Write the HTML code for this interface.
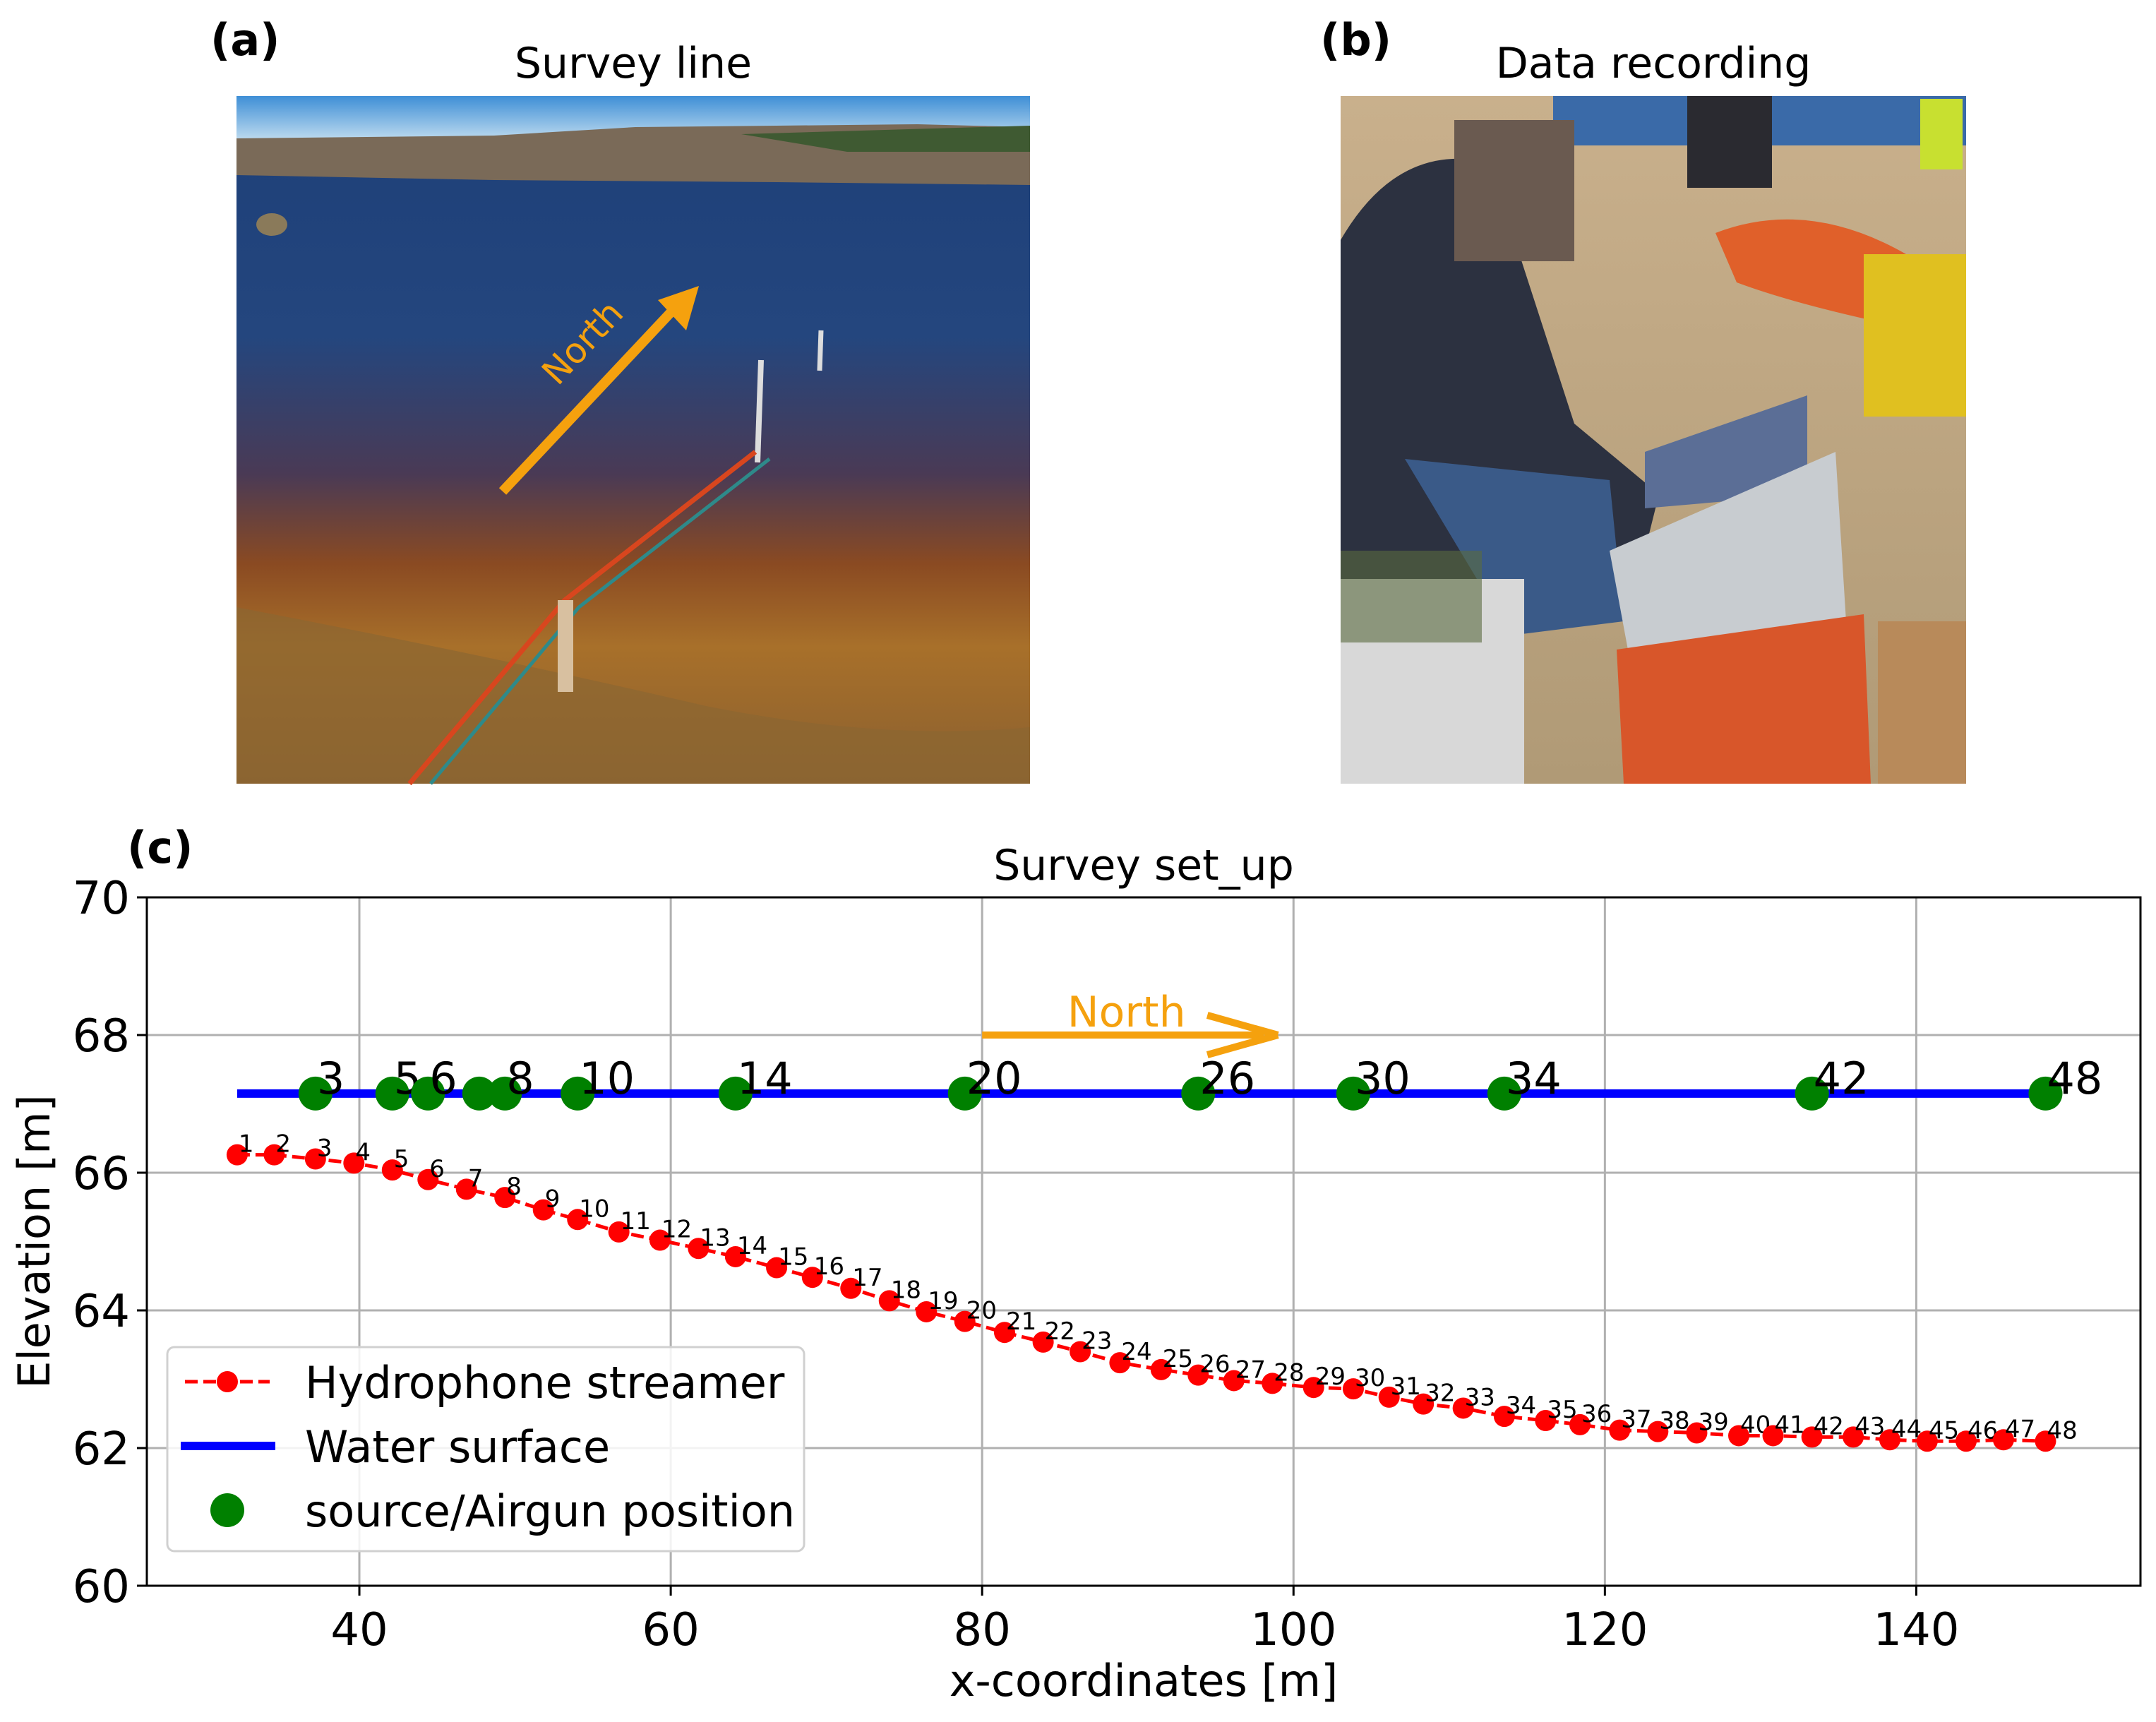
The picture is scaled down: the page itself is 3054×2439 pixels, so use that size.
<!DOCTYPE html>
<html><head><meta charset="utf-8"><style>
body{margin:0;background:#fff;}
svg text{font-family:"DejaVu Sans","Liberation Sans",sans-serif;}
</style></head><body>
<svg id="fig" width="3054" height="2434" viewBox="0 0 3054 2434" xmlns="http://www.w3.org/2000/svg">
<defs>
<linearGradient id="waterA" x1="0" y1="0" x2="0" y2="1">
<stop offset="0" stop-color="#1d3f78"/><stop offset="0.35" stop-color="#24467e"/><stop offset="0.55" stop-color="#4a3a55"/><stop offset="0.68" stop-color="#8a4a22"/><stop offset="0.8" stop-color="#a8702a"/><stop offset="1" stop-color="#8a6030"/>
</linearGradient>
<linearGradient id="skyA" x1="0" y1="0" x2="0" y2="1"><stop offset="0" stop-color="#3f8fd6"/><stop offset="1" stop-color="#b9d8ee"/></linearGradient>
<linearGradient id="sandB" x1="0" y1="0" x2="0" y2="1"><stop offset="0" stop-color="#c9b08c"/><stop offset="1" stop-color="#b09a76"/></linearGradient>
</defs>
<g>
<text x="298" y="78" font-size="62" font-weight="bold">(a)</text>
<text x="897" y="110" font-size="60" text-anchor="middle">Survey line</text>
<g>
<rect x="335" y="136" width="1124" height="974" fill="url(#waterA)"/>
<rect x="335" y="136" width="1124" height="60" fill="url(#skyA)"/>
<path d="M335 196 L700 192 L900 180 L1100 178 L1300 176 L1459 180 L1459 262 L1100 258 L700 255 L335 248 Z" fill="#7a6a58"/>
<path d="M1050 190 L1459 178 L1459 215 L1200 215 Z" fill="#3f5a32"/>
<ellipse cx="385" cy="318" rx="22" ry="16" fill="#8a7a5a"/>
<path d="M335 1110 L335 860 Q700 930 1000 1000 Q1250 1050 1459 1030 L1459 1110 Z" fill="#8c6632" opacity="0.7"/>
<path d="M712 696 L960 432" stroke="#f5a10e" stroke-width="14"/>
<path d="M990 405 L932 425 L972 468 Z" fill="#f5a10e"/>
<text x="0" y="0" font-size="50" fill="#f5a10e" transform="translate(790 548) rotate(-47)">North</text>
<path d="M1078 510 L1073 655" stroke="#ddd" stroke-width="8"/>
<path d="M1163 468 L1161 525" stroke="#ddd" stroke-width="7"/>
<path d="M580 1110 L800 850 L1070 640" stroke="#d8461e" stroke-width="7" fill="none"/>
<path d="M610 1110 L820 860 L1090 650" stroke="#2e8a8a" stroke-width="5" fill="none"/>
<rect x="790" y="850" width="22" height="130" fill="#d8c0a0"/>
</g>
</g>
<g>
<text x="1870" y="78" font-size="62" font-weight="bold">(b)</text>
<text x="2342" y="110" font-size="60" text-anchor="middle">Data recording</text>
<g>
<rect x="1899" y="136" width="886" height="974" fill="url(#sandB)"/>
<rect x="2200" y="136" width="585" height="70" fill="#3a6aa8"/>
<rect x="2390" y="136" width="120" height="130" fill="#2a2a30"/>
<rect x="2720" y="140" width="60" height="100" fill="#c8e030"/>
<path d="M2430 330 Q2560 280 2700 360 L2680 460 Q2540 430 2460 400 Z" fill="#e0602a"/>
<path d="M1899 340 Q1980 200 2110 230 L2230 600 L2350 700 L2320 820 L2200 780 L2150 900 L1899 900 Z" fill="#2c3140"/>
<rect x="2060" y="170" width="170" height="200" fill="#6a5a50"/>
<path d="M1990 650 L2280 680 L2300 880 L2140 900 Z" fill="#3a5a88"/>
<rect x="1899" y="820" width="260" height="290" fill="#d8d8d8"/>
<path d="M2330 640 L2560 560 L2560 700 L2330 720 Z" fill="#5b6e96"/>
<path d="M2280 780 L2600 640 L2620 960 L2330 1050 Z" fill="#c8ccd0"/>
<path d="M2290 920 L2640 870 L2650 1110 L2300 1110 Z" fill="#d8562a"/>
<rect x="2640" y="360" width="145" height="230" fill="#e0c020"/>
<rect x="2660" y="880" width="125" height="230" fill="#b88a5a"/>
<rect x="1899" y="780" width="200" height="130" fill="#5a6a40" opacity="0.6"/>
</g>
</g>
<g id="chart"></g>
</svg>
<script>
const xTicks=[40,60,80,100,120,140];
const yTicks=[60,62,64,66,68,70];
const hydroX=[32.15,34.53,37.18,39.65,42.12,44.41,46.88,49.35,51.82,54.02,56.67,59.31,61.78,64.16,66.8,69.1,71.57,74.04,76.42,78.89,81.44,83.92,86.3,88.85,91.5,93.88,96.17,98.64,101.29,103.84,106.14,108.34,110.9,113.54,116.19,118.4,120.95,123.4,125.9,128.6,130.8,133.3,135.95,138.3,140.7,143.2,145.6,148.3];
const hydroY=[66.26,66.26,66.2,66.14,66.04,65.9,65.76,65.64,65.46,65.32,65.14,65.02,64.9,64.78,64.62,64.48,64.32,64.14,63.98,63.84,63.68,63.54,63.4,63.24,63.14,63.06,62.98,62.94,62.88,62.86,62.74,62.64,62.58,62.46,62.4,62.34,62.26,62.24,62.22,62.18,62.18,62.16,62.16,62.12,62.1,62.1,62.12,62.1];
const hydroLabels=hydroX.map((_,i)=>String(i+1));
const srcX=[37.18,42.12,44.41,47.7,49.35,54.02,64.16,78.89,93.88,103.84,113.54,133.3,148.3];
const srcLabels=["3","5","6","","8","10","14","20","26","30","34","42","48"];
const waterLevel=[67.15];
const waterRange=[32.15,148.3];
const northArrow=[80,99,68.0];

const L=208,R=3032,T=1271,B=2246,xmin=26.35,xmax=154.4,ymin=60,ymax=70;
const sx=v=>L+(v-xmin)/(xmax-xmin)*(R-L);
const sy=v=>B-(v-ymin)/(ymax-ymin)*(B-T);
const NS="http://www.w3.org/2000/svg";
const g=document.getElementById('chart');
function mk(tag,attrs,parent){const e=document.createElementNS(NS,tag);for(const k in attrs)e.setAttribute(k,attrs[k]);(parent||g).appendChild(e);return e;}
let e;
e=mk('text',{x:180,y:1222,'font-size':62,'font-weight':'bold'});e.textContent='(c)';


e=mk('text',{x:(L+R)/2,y:1246,'font-size':60,'text-anchor':'middle'});e.textContent='Survey set_up';


xTicks.forEach(t=>{
 e=mk('line',{x1:sx(t),x2:sx(t),y1:T,y2:B,stroke:'#b0b0b0','stroke-width':3});
 
 
 mk('line',{x1:sx(t),x2:sx(t),y1:B,y2:B+14,stroke:'#000','stroke-width':3});
 e=mk('text',{x:sx(t),y:B+84,'font-size':64,'text-anchor':'middle'});e.textContent=t;
 
 
});
yTicks.forEach(t=>{
 e=mk('line',{x1:L,x2:R,y1:sy(t),y2:sy(t),stroke:'#b0b0b0','stroke-width':3});
 
 
 mk('line',{x1:L-14,x2:L,y1:sy(t),y2:sy(t),stroke:'#000','stroke-width':3});
 e=mk('text',{x:L-24,y:sy(t)+23,'font-size':64,'text-anchor':'end'});e.textContent=t;
 
 
});
e=mk('rect',{x:L,y:T,width:R-L,height:B-T,fill:'none',stroke:'#000','stroke-width':3});


e=mk('text',{x:(L+R)/2,y:2402,'font-size':62,'text-anchor':'middle'});e.textContent='x-coordinates [m]';


e=mk('text',{x:0,y:0,'font-size':62,'text-anchor':'middle',transform:`translate(70 ${(T+B)/2}) rotate(-90)`});e.textContent='Elevation [m]';


e=mk('line',{x1:sx(waterRange[0]),x2:sx(waterRange[1]),y1:sy(waterLevel[0]),y2:sy(waterLevel[0]),stroke:'#0000ff','stroke-width':12});


e=mk('polyline',{points:hydroX.map((x,i)=>sx(x)+','+sy(hydroY[i])).join(' '),fill:'none',stroke:'#ff0000','stroke-width':5,'stroke-dasharray':'18 8'});


hydroX.forEach((x,i)=>{
 e=mk('circle',{cx:sx(x),cy:sy(hydroY[i]),r:15,fill:'#ff0000'});
 
 
 e=mk('text',{x:sx(x)+2,y:sy(hydroY[i])-4,'font-size':34});e.textContent=hydroLabels[i];
 
 
});
srcX.forEach((x,i)=>{
 e=mk('circle',{cx:sx(x),cy:sy(waterLevel[0]),r:24,fill:'#008000'});
 
 
 if(srcLabels[i]){
 e=mk('text',{x:sx(x)+2,y:sy(waterLevel[0]),'font-size':62});e.textContent=srcLabels[i];
 
 
 }
});
e=mk('line',{x1:sx(northArrow[0]),x2:sx(northArrow[1])-20,y1:sy(northArrow[2]),y2:sy(northArrow[2]),stroke:'#f5a10e','stroke-width':10});


mk('path',{d:`M${sx(northArrow[1])} ${sy(northArrow[2])} L${sx(northArrow[1])-100} ${sy(northArrow[2])-28} M${sx(northArrow[1])} ${sy(northArrow[2])} L${sx(northArrow[1])-100} ${sy(northArrow[2])+28}`,stroke:'#f5a10e','stroke-width':10,fill:'none'});
e=mk('text',{x:(sx(northArrow[0])+sx(northArrow[1]))/2-5,y:sy(northArrow[2])-12,'font-size':60,fill:'#f5a10e','text-anchor':'middle'});e.textContent='North';


const lg=mk('g',{});


mk('rect',{x:237,y:1908,width:902,height:289,rx:10,fill:'#fff','fill-opacity':0.85,stroke:'#d0d0d0','stroke-width':3},lg);
mk('line',{x1:262,x2:382,y1:1957,y2:1957,stroke:'#ff0000','stroke-width':5,'stroke-dasharray':'18 8'},lg);
mk('circle',{cx:322,cy:1957,r:15,fill:'#ff0000'},lg);
e=mk('text',{x:432,y:1980,'font-size':62},lg);e.textContent='Hydrophone streamer';


mk('line',{x1:256,x2:390,y1:2048,y2:2048,stroke:'#0000ff','stroke-width':12},lg);
e=mk('text',{x:432,y:2071,'font-size':62},lg);e.textContent='Water surface';


mk('circle',{cx:322,cy:2139,r:24,fill:'#008000'},lg);
e=mk('text',{x:432,y:2162,'font-size':62},lg);e.textContent='source/Airgun position';


</script>
</body></html>
